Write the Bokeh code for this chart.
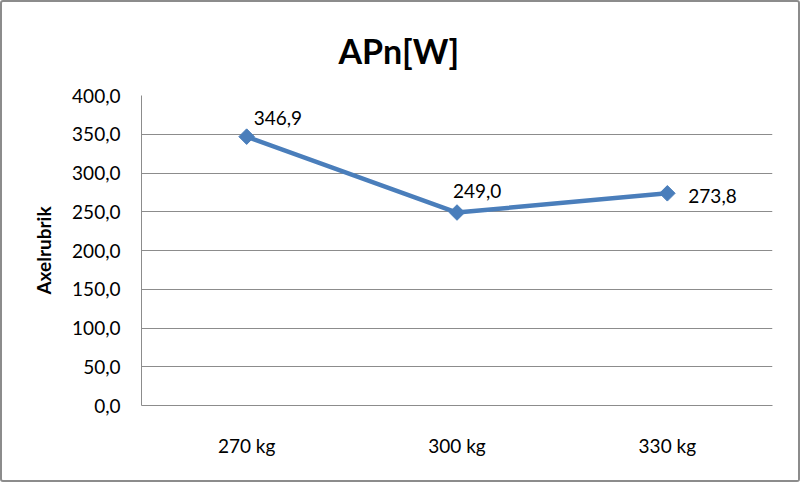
import numpy as np
from bokeh.plotting import figure
from bokeh.models import FactorRange, Range1d, FixedTicker, ColumnDataSource
from bokeh.core.properties import value
from bokeh.embed import file_html
from bokeh.resources import INLINE

categories = ["270 kg", "300 kg", "330 kg"]
values = [346.9, 249.0, 273.8]
value_labels = ["346,9", "249,0", "273,8"]
y_ticks = [0, 50, 100, 150, 200, 250, 300, 350, 400]
y_tick_labels = ["0,0", "50,0", "100,0", "150,0", "200,0", "250,0", "300,0", "350,0", "400,0"]
title_text = "APn[W]"

FONT = "Lato"
BLUE = "#4a7ebb"
GRID = "#8c8c8c"

p = figure(width=800, height=482, output_backend="svg", toolbar_location=None,
           x_range=FactorRange(*categories, range_padding=0),
           y_range=Range1d(0, 400),
           min_border_left=139, min_border_right=30, min_border_top=93, min_border_bottom=79)
p.styles = {"border": "2px solid #8c8c8c", "border-radius": "3px"}
p.background_fill_color = "white"
p.border_fill_color = "white"
p.outline_line_color = None

p.title.text = title_text
p.title.align = "left"
p.title.text_font = FONT
p.title.text_font_size = "34px"
p.title.text_font_style = "bold"
p.title.text_color = "black"
p.title.offset = 197
p.title.standoff = 50

p.xgrid.grid_line_color = None
p.ygrid.grid_line_color = GRID
p.ygrid.grid_line_width = 1

p.yaxis.ticker = FixedTicker(ticks=y_ticks)
p.yaxis.major_label_overrides = {t: l for t, l in zip(y_ticks, y_tick_labels)}
for ax in (p.xaxis[0], p.yaxis[0]):
    ax.axis_line_color = GRID
    ax.axis_line_width = 1
    ax.major_tick_line_color = None
    ax.minor_tick_line_color = None
    ax.major_tick_in = 0
    ax.major_tick_out = 0
    ax.major_label_text_font = FONT
    ax.major_label_text_font_size = "19px"
    ax.major_label_text_color = "black"
p.yaxis.major_label_standoff = 21
p.xaxis.major_label_standoff = 28
p.yaxis.axis_label = "Axelrubrik"
p.yaxis.axis_label_text_font = FONT
p.yaxis.axis_label_text_font_size = "19px"
p.yaxis.axis_label_text_font_style = "bold"
p.yaxis.axis_label_text_color = "black"
p.yaxis.axis_label_standoff = 14

src = ColumnDataSource(dict(x=categories, y=values, lab=value_labels,
                            dx=[7, -4, 21], dy=[-19, -22, 3]))
p.line("x", "y", source=src, line_color=BLUE, line_width=4.5)
p.scatter("x", "y", source=src, marker="square", size=11, angle=np.pi / 4,
          fill_color=BLUE, line_color=BLUE)
p.text("x", "y", text="lab", source=src, x_offset="dx", y_offset="dy",
       text_font=value(FONT), text_font_size="19px", text_color="black",
       text_align="left", text_baseline="middle")

open("out.html", "w").write(file_html(p, INLINE))
